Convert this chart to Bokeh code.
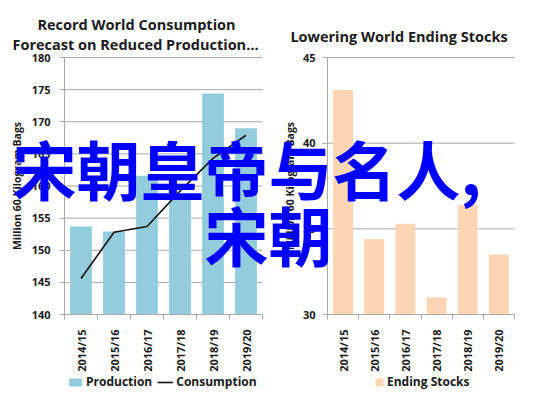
import math
from bokeh.plotting import figure
from bokeh.models import (Label, Legend, LegendItem, FixedTicker, ColumnDataSource,
                          Range1d, LinearAxis)
from bokeh.embed import file_html
from bokeh.resources import INLINE

# ---------------- data ----------------
seasons = ["2014/15", "2015/16", "2016/17", "2017/18", "2018/19", "2019/20"]
production = [153.7, 152.9, 161.6, 158.5, 174.4, 169.0]
consumption = [145.6, 152.8, 153.7, 159.2, 164.3, 167.9]
ending_stocks = [43.1, 34.4, 35.3, 31.0, 36.4, 33.5]

left_title = ["Record World Consumption", "Forecast on Reduced Production…"]
right_title = "Lowering World Ending Stocks"
y_label = "Million 60 Kilogram Bags"
left_y_ticks = [140, 145, 150, 155, 160, 165, 170, 175, 180]
right_y_ticks = [30, 35, 40, 45]
overlay_line1 = "宋朝皇帝与名人,"
overlay_line2 = "宋朝"

FONT = "Open Sans"
TXT = "#1a1a1a"
GRID = "#a9a9a9"
W, H = 529, 391

centers = [i + 0.5 for i in range(len(seasons))]
bounds = [i for i in range(len(seasons) + 1)]


def rng(u0, u1, a, b, total):
    """Range whose values u0..u1 fall on canvas pixels a..b."""
    s = (u1 - u0) / (b - a)
    return Range1d(u0 - a * s, u1 + (total - b) * s)


# one canvas; every chart lives in its own pair of ranges
p = figure(width=W, height=H, x_range=Range1d(0, W), y_range=Range1d(0, H),
           x_axis_type=None, y_axis_type=None,
           output_backend="svg", toolbar_location=None, min_border=0)
p.outline_line_color = None
p.background_fill_color = "white"
p.border_fill_color = "white"
p.extra_x_ranges = {"lx": rng(0, 6, 64, 262, W), "rx": rng(0, 6, 327, 514, W)}
p.extra_y_ranges = {"ly": rng(140, 180, H - 314, H - 57, H),
                    "ry": rng(30, 45, H - 314, H - 57, H)}


def add_axes(xr, yr, yticks, y_standoff, label_standoff):
    ya = LinearAxis(x_range_name=xr, y_range_name=yr, fixed_location=0,
                    bounds=(yticks[0], yticks[-1]), ticker=FixedTicker(ticks=yticks))
    xa = LinearAxis(x_range_name=xr, y_range_name=yr, fixed_location=yticks[0],
                    bounds=(0, len(seasons)),
                    ticker=FixedTicker(ticks=centers, minor_ticks=bounds))
    xa.major_label_overrides = {c: s for c, s in zip(centers, seasons)}
    xa.major_label_orientation = math.pi / 2
    xa.major_tick_out = 0
    xa.major_tick_in = 0
    xa.minor_tick_out = 5
    xa.minor_tick_in = 0
    xa.minor_tick_line_color = GRID
    xa.major_label_standoff = 10
    for ax in (xa, ya):
        ax.axis_line_color = GRID
        ax.major_tick_line_color = GRID
        ax.major_label_text_font = FONT
        ax.major_label_text_font_style = "bold"
        ax.major_label_text_font_size = "11px"
        ax.major_label_text_color = TXT
    ya.minor_tick_line_color = None
    ya.major_tick_out = 5
    ya.major_tick_in = 0
    ya.major_label_standoff = y_standoff
    ya.axis_label = y_label
    ya.axis_label_standoff = label_standoff
    ya.axis_label_text_font = FONT
    ya.axis_label_text_font_style = "bold"
    ya.axis_label_text_font_size = "10.5px"
    ya.axis_label_text_color = TXT
    p.add_layout(ya, "left")
    p.add_layout(xa, "below")
    # horizontal gridlines at the tick values, across the chart's categories
    grid = yticks[1:]
    p.segment(x0=[0] * len(grid), x1=[len(seasons)] * len(grid), y0=grid, y1=grid,
              x_range_name=xr, y_range_name=yr, line_color=GRID, line_width=1)


def legend(items, x, gw):
    return Legend(items=items, orientation="horizontal", location=(x, 1),
                  border_line_color=None, background_fill_alpha=0,
                  padding=0, margin=0, spacing=5, label_standoff=3,
                  glyph_width=gw, glyph_height=10, label_height=14,
                  label_text_font=FONT, label_text_font_style="bold",
                  label_text_font_size="12px", label_text_color=TXT)


def text(t, x, y, size="14.5px", color=TXT, font=FONT, align="center", baseline="alphabetic"):
    p.add_layout(Label(x=x, y=y, text=t, text_align=align, text_baseline=baseline,
                       text_font=font, text_font_style="bold", text_font_size=size,
                       text_color=color))


# ---------------- left chart ----------------
add_axes("lx", "ly", left_y_ticks, 9, 5)
src1 = ColumnDataSource(dict(x=centers, prod=production, cons=consumption))
bars1 = p.vbar(x="x", top="prod", bottom=left_y_ticks[0], width=0.66, source=src1,
               x_range_name="lx", y_range_name="ly",
               fill_color="#93cddd", line_color=None)
line1 = p.line(x="x", y="cons", source=src1, x_range_name="lx", y_range_name="ly",
               line_color="#111111", line_width=1.6)
p.add_layout(legend([LegendItem(label="Production", renderers=[bars1]),
                     LegendItem(label="Consumption", renderers=[line1])], 67, 16))
text(left_title[0], 136, H - 24)
text(left_title[1], 135, H - 44)

# ---------------- right chart ----------------
add_axes("rx", "ry", right_y_ticks, 7, 3)
src2 = ColumnDataSource(dict(x=centers, stocks=ending_stocks))
bars2 = p.vbar(x="x", top="stocks", bottom=right_y_ticks[0], width=0.64, source=src2,
               x_range_name="rx", y_range_name="ry",
               fill_color="#fcd5b5", line_color=None)
p.add_layout(legend([LegendItem(label="Ending Stocks", renderers=[bars2])], 374, 10))
text(right_title, 398.5, H - 36)

# ---------------- overlay caption ----------------
text(overlay_line1, 12, H - 166, size="64px", color="#0000ff",
     font="Noto Sans CJK SC", align="left", baseline="middle")
text(overlay_line2, 204, H - 232, size="64px", color="#0000ff",
     font="Noto Sans CJK SC", align="left", baseline="middle")

open("out.html", "w").write(file_html(p, INLINE))
